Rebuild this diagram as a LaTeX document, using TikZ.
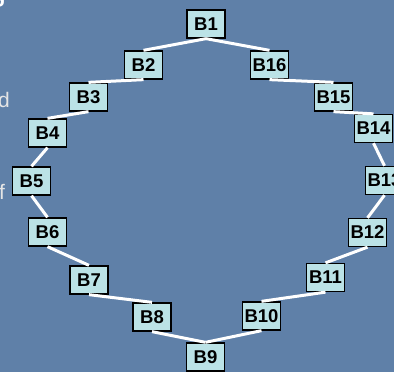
\documentclass[tikz,border=0pt]{standalone}
\usepackage{fontspec}
\setmainfont{Liberation Sans}

\definecolor{slidebg}{RGB}{95,128,168}
\definecolor{boxfill}{RGB}{187,226,230}

\begin{document}
\begin{tikzpicture}[
    x=1pt, y=-1pt, % pixel-like coordinates, y grows downwards
    blk/.style={draw=black, line width=1.3pt, fill=boxfill, minimum width=38pt,
        minimum height=28pt, inner sep=0pt, font=\fontsize{18.5}{18.5}\selectfont\bfseries}, % Style for the B boxes
    link/.style={draw=white, line width=3pt}, % Style for the ring edges
    frag/.style={text=white!90!black, inner sep=0pt, anchor=base west,
        font=\fontsize{21}{21}\selectfont} % Cut-off slide text
]

    % Slide background
    \fill[slidebg] (0,0) rectangle (394,372);
    \useasboundingbox (0,0) rectangle (394,372);
    \clip (0,0) rectangle (394,372);

    % Cut-off words at the left edge of the slide
    \node[frag, text=white, font=\fontsize{22}{22}\selectfont\bfseries] (fragg) at (-8,2) {g};
    \node[frag] (fragd) at (-2,107) {d};
    \node[frag] (fragf) at (-1,199) {f};

    % Left half of the ring
    \node[blk] (B1) at (206,24) {B1};
    \node[blk] (B2) at (143.5,65) {B2};
    \node[blk] (B3) at (88.5,97) {B3};
    \node[blk] (B4) at (47.5,133) {B4};
    \node[blk] (B5) at (31.5,181) {B5};
    \node[blk] (B6) at (47.5,232) {B6};
    \node[blk] (B7) at (89,280) {B7};
    \node[blk] (B8) at (152,317) {B8};
    \node[blk] (B9) at (205.5,357) {B9};

    % Right half of the ring
    \node[blk] (B10) at (261.5,316) {B10};
    \node[blk] (B11) at (325.5,277.5) {B11};
    \node[blk] (B12) at (367.5,232.5) {B12};
    \node[blk] (B13) at (384.5,180.5) {B13};
    \node[blk] (B14) at (373.5,128.5) {B14};
    \node[blk] (B15) at (333.5,97) {B15};
    \node[blk] (B16) at (269.5,65) {B16};

    % Edges, always from the lower side of the upper box
    \draw[link] (B1.south) -- (B2.north);
    \draw[link] (B2.south) -- (B3.north);
    \draw[link] (B3.south) -- (B4.north);
    \draw[link] (B4.south) -- (B5.north);
    \draw[link] (B5.south) -- (B6.north);
    \draw[link] (B6.south) -- (B7.north);
    \draw[link] (B7.south) -- (B8.north);
    \draw[link] (B8.south) -- (B9.north);
    \draw[link] (B1.south) -- (B16.north);
    \draw[link] (B16.south) -- (B15.north);
    \draw[link] (B15.south) -- (B14.north);
    \draw[link] (B14.south) -- (B13.north);
    \draw[link] (B13.south) -- (B12.north);
    \draw[link] (B12.south) -- (B11.north);
    \draw[link] (B11.south) -- (B10.north);
    \draw[link] (B10.south) -- (B9.north);

\end{tikzpicture}
\end{document}
